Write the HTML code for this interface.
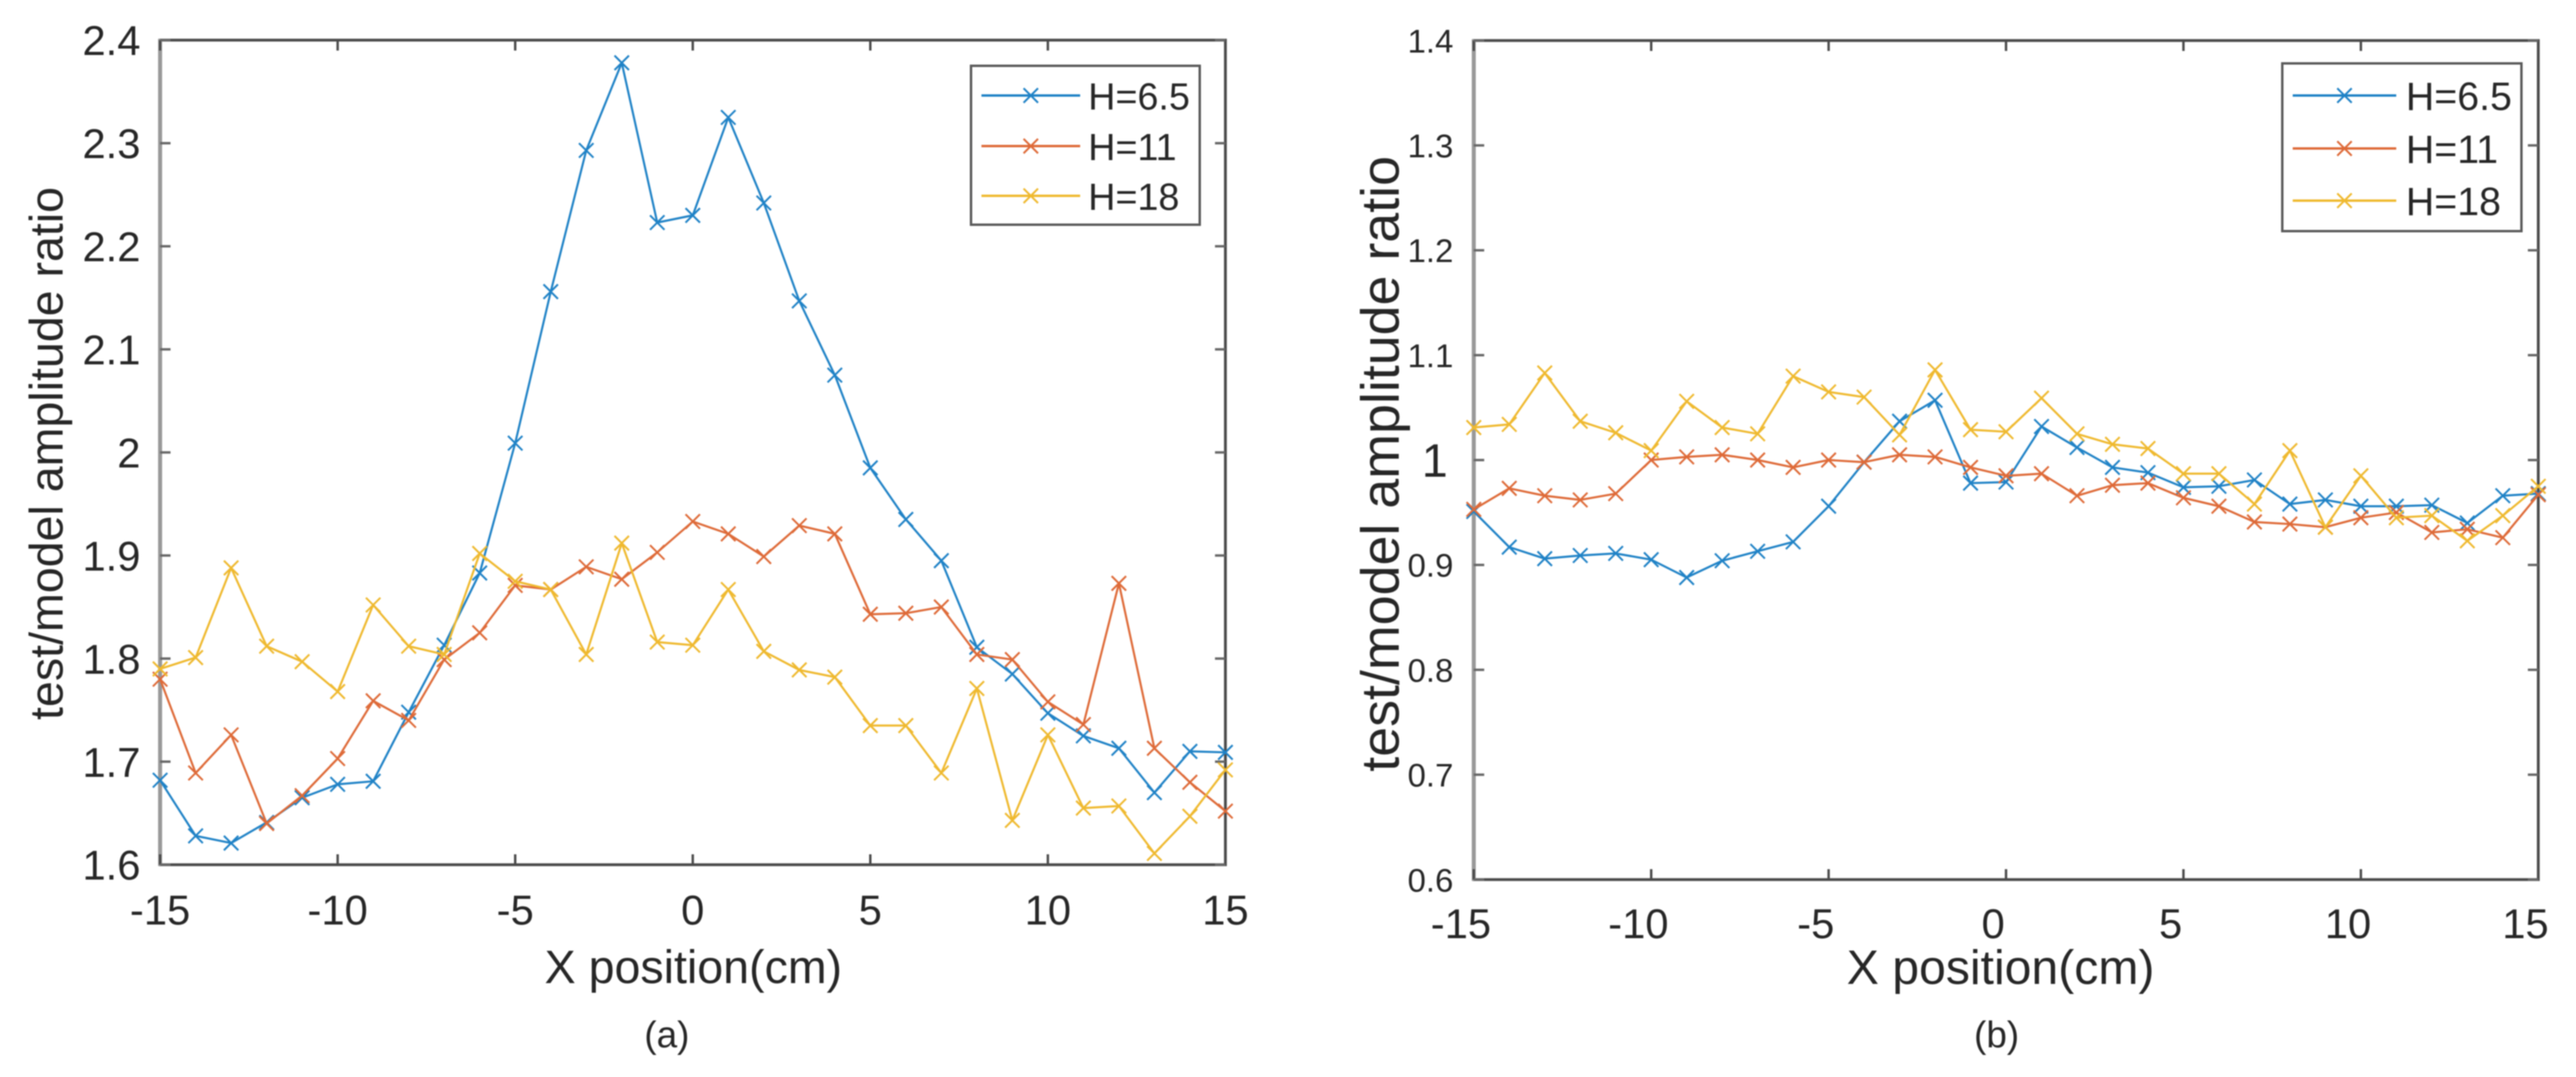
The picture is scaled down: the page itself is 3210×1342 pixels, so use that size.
<!DOCTYPE html>
<html lang="en">
<head>
<meta charset="utf-8">
<title>Test/model amplitude ratio charts</title>
<style>
  html, body { margin: 0; padding: 0; background: #fff; }
  body { width: 3210px; height: 1342px; overflow: hidden; }
  svg { display: block; filter: blur(0.7px); }
  text { font-family: "Liberation Sans", sans-serif; fill: #262626; }
</style>
</head>
<body>
<svg id="figure" xmlns="http://www.w3.org/2000/svg" width="3210" height="1342" viewBox="0 0 3210 1342">
  <rect x="0" y="0" width="3210" height="1342" fill="#ffffff"/>
  <g id="panel-a"></g>
  <g id="panel-b"></g>
  <text x="831" y="1305" font-size="46" text-anchor="middle">(a)</text>
  <text x="2488" y="1305" font-size="46" text-anchor="middle">(b)</text>
</svg>
<script>
const xPositions = [-15,-14,-13,-12,-11,-10,-9,-8,-7,-6,-5,-4,-3,-2,-1,0,1,2,3,4,5,6,7,8,9,10,11,12,13,14,15];
const xTicks = [-15,-10,-5,0,5,10,15];
const seriesLabels = ['H=6.5','H=11','H=18'];

const panelAYTicks = ['1.6','1.7','1.8','1.9','2','2.1','2.2','2.3','2.4'];
const panelAH65 = [1.682,1.628,1.621,1.641,1.665,1.678,1.681,1.748,1.813,1.883,2.009,2.156,2.293,2.378,2.223,2.230,2.325,2.242,2.147,2.075,1.985,1.935,1.895,1.811,1.785,1.747,1.725,1.713,1.670,1.710,1.709];
const panelAH11 = [1.780,1.689,1.726,1.640,1.667,1.703,1.759,1.740,1.799,1.825,1.871,1.867,1.889,1.877,1.903,1.933,1.921,1.899,1.929,1.921,1.843,1.844,1.850,1.804,1.799,1.758,1.736,1.873,1.713,1.680,1.652];
const panelAH18 = [1.790,1.801,1.888,1.812,1.797,1.768,1.852,1.812,1.804,1.902,1.875,1.867,1.804,1.912,1.816,1.813,1.867,1.807,1.789,1.782,1.735,1.735,1.689,1.771,1.643,1.726,1.655,1.657,1.611,1.647,1.692];

const panelBYTicks = ['0.6','0.7','0.8','0.9','1','1.1','1.2','1.3','1.4'];
const panelBH65 = [0.951,0.917,0.906,0.909,0.911,0.905,0.888,0.904,0.913,0.922,0.956,0.998,1.037,1.057,0.978,0.979,1.032,1.012,0.993,0.988,0.974,0.975,0.981,0.958,0.962,0.956,0.956,0.957,0.940,0.966,0.968];
const panelBH11 = [0.953,0.973,0.966,0.962,0.968,1.000,1.003,1.005,1.000,0.993,1.000,0.998,1.005,1.003,0.993,0.985,0.987,0.966,0.976,0.978,0.964,0.956,0.941,0.939,0.936,0.945,0.950,0.931,0.934,0.926,0.967];
const panelBH18 = [1.031,1.034,1.083,1.037,1.026,1.009,1.056,1.031,1.025,1.080,1.065,1.060,1.024,1.086,1.029,1.027,1.059,1.025,1.015,1.011,0.987,0.987,0.958,1.009,0.936,0.985,0.945,0.947,0.923,0.947,0.975];

const seriesColors = ['#1f82c6', '#de6a38', '#efb92f'];
const SVGNS = 'http://www.w3.org/2000/svg';

function make(tag, parent, attrs, content) {
  const el = document.createElementNS(SVGNS, tag);
  for (const k in attrs) el.setAttribute(k, attrs[k]);
  if (content !== undefined) el.textContent = content;
  parent.appendChild(el);
  return el;
}

function drawPanel(root, cfg, seriesList) {
  const xScale = v => cfg.left + (v - (-15)) / 30 * (cfg.right - cfg.left);
  const yScale = v => cfg.bottom - (v - cfg.yMin) / (cfg.yMax - cfg.yMin) * (cfg.bottom - cfg.top);

  // axes box
  const box = make('rect', root, {x: cfg.left, y: cfg.top, width: cfg.right - cfg.left, height: cfg.bottom - cfg.top, fill: 'none', stroke: '#4a4a4a', 'stroke-width': 3.5});
  
  
  const leftEdge = make('line', root, {x1: cfg.left, x2: cfg.left, y1: cfg.top - 1.5, y2: cfg.bottom + 1.5, stroke: '#999999', 'stroke-width': 5});
  
  

  // x ticks + labels
  xTicks.forEach(t => {
    const x = xScale(t);
    const tb = make('line', root, {x1: x, x2: x, y1: cfg.bottom, y2: cfg.bottom - 13, stroke: '#4a4a4a', 'stroke-width': 3});
    
    
    const tt = make('line', root, {x1: x, x2: x, y1: cfg.top, y2: cfg.top + 13, stroke: '#4a4a4a', 'stroke-width': 3});
    
    
    const lab = make('text', root, {x: x + cfg.xLabelShift, y: cfg.xLabelY, 'font-size': 52, 'text-anchor': 'middle'}, String(t));
    
    
  });

  // y ticks + labels
  cfg.yTicks.forEach(t => {
    const v = parseFloat(t);
    const y = yScale(v);
    const tl = make('line', root, {x1: cfg.left, x2: cfg.left + 13, y1: y, y2: y, stroke: '#666666', 'stroke-width': 3});
    
    
    const tr = make('line', root, {x1: cfg.right, x2: cfg.right - 13, y1: y, y2: y, stroke: '#666666', 'stroke-width': 3});
    
    
    const big = t === '1' && cfg.yFont < 50;
    const size = big ? 58 : cfg.yFont;
    const lab = make('text', root, {x: big ? cfg.yLabelX - 7 : cfg.yLabelX, y: y + size * 0.36, 'font-size': size, 'text-anchor': 'end'}, t);
    
    
  });

  // series
  seriesList.forEach((vals, i) => {
    const g = make('g', root, {});
    
    
    const pts = vals.map((v, j) => xScale(xPositions[j]).toFixed(1) + ',' + yScale(v).toFixed(1)).join(' ');
    const line = make('polyline', g, {points: pts, fill: 'none', stroke: seriesColors[i], 'stroke-width': 2.6, 'stroke-linejoin': 'round'});
    
    
    vals.forEach((v, j) => {
      const cx = xScale(xPositions[j]), cy = yScale(v), r = 9;
      const m = make('path', g, {d: `M${cx - r} ${cy - r}L${cx + r} ${cy + r}M${cx - r} ${cy + r}L${cx + r} ${cy - r}`, fill: 'none', stroke: seriesColors[i], 'stroke-width': 2.4});
      
      
    });
  });

  // axis titles
  const xt = make('text', root, {x: cfg.xTitleX, y: cfg.xTitleY, 'font-size': cfg.xTitleFont, 'text-anchor': 'middle'}, 'X position(cm)');
  
  
  const yt = make('text', root, {x: 0, y: 0, 'font-size': cfg.yTitleFont, 'text-anchor': 'middle', transform: `translate(${cfg.yTitleX} ${cfg.yTitleY}) rotate(-90)`}, 'test/model amplitude ratio');
  
  

  // legend
  const lg = make('g', root, {});
  
  
  const l = cfg.legend;
  const lb = make('rect', lg, {x: l.x1, y: l.y1, width: l.x2 - l.x1, height: l.y2 - l.y1, fill: '#fff', stroke: '#5a5a5a', 'stroke-width': 3});
  
  
  seriesLabels.forEach((name, i) => {
    const y = l.rows[i];
    const sw = make('line', lg, {x1: l.lineX1, x2: l.lineX2, y1: y, y2: y, stroke: seriesColors[i], 'stroke-width': 3});
    
    
    const cx = (l.lineX1 + l.lineX2) / 2, r = 9;
    const mk = make('path', lg, {d: `M${cx - r} ${y - r}L${cx + r} ${y + r}M${cx - r} ${y + r}L${cx + r} ${y - r}`, fill: 'none', stroke: seriesColors[i], 'stroke-width': 2.4});
    
    
    const tx = make('text', lg, {x: l.textX, y: y + l.font * 0.37, 'font-size': l.font}, name);
    
    
  });
}

drawPanel(document.getElementById('panel-a'), {
  left: 199.5, right: 1527, top: 50, bottom: 1077.5, yMin: 1.6, yMax: 2.4,
  yTicks: panelAYTicks, yFont: 52, yLabelX: 175, xLabelY: 1152, xLabelShift: 0,
  xTitleX: 864, xTitleY: 1225, xTitleFont: 58,
  yTitleX: 78, yTitleY: 565, yTitleFont: 58,
  legend: {x1: 1210, x2: 1495, y1: 82, y2: 280, lineX1: 1223, lineX2: 1346, rows: [119, 182, 244], textX: 1356, font: 47}
}, [panelAH65, panelAH11, panelAH18]);

drawPanel(document.getElementById('panel-b'), {
  left: 1836.5, right: 3163, top: 50.5, bottom: 1096, yMin: 0.6, yMax: 1.4,
  yTicks: panelBYTicks, yFont: 41, yLabelX: 1811, xLabelY: 1169, xLabelShift: -16,
  xTitleX: 2493, xTitleY: 1226, xTitleFont: 60,
  yTitleX: 1743, yTitleY: 578, yTitleFont: 67,
  legend: {x1: 2844, x2: 3142, y1: 79, y2: 288, lineX1: 2857, lineX2: 2986, rows: [119, 185, 250], textX: 2998, font: 49}
}, [panelBH65, panelBH11, panelBH18]);
</script>
</body>
</html>
